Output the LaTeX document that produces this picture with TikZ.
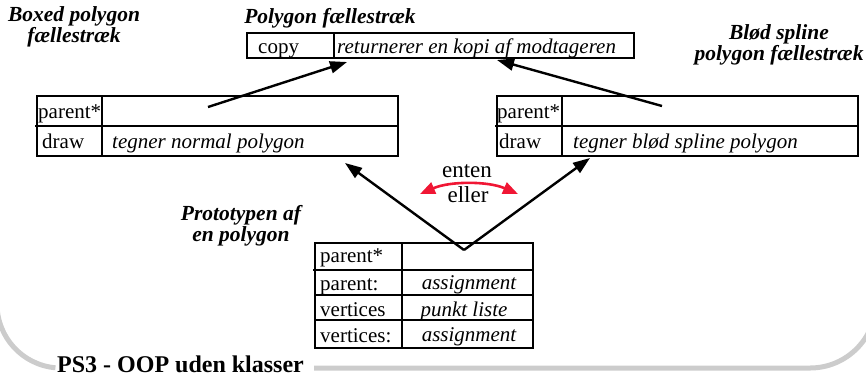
\documentclass[tikz,border=0pt]{standalone}
\usepackage{fontspec}
\setmainfont{Liberation Serif}
\usetikzlibrary{arrows.meta}
\definecolor{framegrey}{RGB}{204,204,204}
\definecolor{eitherred}{RGB}{240,22,52}
\tikzset{
  cellline/.style={line width=2.4pt, line join=miter},
  celltext/.style={anchor=base west, inner sep=0pt, font=\fontsize{21}{22}\selectfont},
  cellnote/.style={anchor=base west, inner sep=0pt, font=\fontsize{21}{22}\selectfont\itshape},
  cellnotec/.style={anchor=base, inner sep=0pt, font=\fontsize{21}{22}\selectfont\itshape},
  heading/.style={anchor=base, align=center, inner sep=0pt, font=\fontsize{21.5}{18.5}\selectfont\bfseries\itshape},
  plain/.style={anchor=base, inner sep=0pt, font=\fontsize{23}{24}\selectfont},
  link/.style={line width=2.4pt, -{Triangle[length=17pt,width=12pt]}},
  eitherlink/.style={eitherred, line width=2.6pt, {Triangle[length=15pt,width=12pt]}-{Triangle[length=15pt,width=12pt]}},
  frame/.style={framegrey, line width=5pt},
}
\begin{document}
\begin{tikzpicture}[x=1pt,y=-1pt]
\useasboundingbox (0,0) rectangle (866,376);
\clip (0,0) rectangle (866,376);

% grey slide frame, broken by the title
\draw[frame] (-3,200) -- (-3,304) arc[start angle=180, end angle=95, radius=64];
\draw[frame] (314,368) -- (810,368) arc[start angle=90, end angle=0, radius=66] -- (876,200);
\node[anchor=base west, inner sep=0pt, font=\fontsize{24}{26}\selectfont\bfseries] (title) at (57,372) {PS3 - OOP uden klasser};

% Polygon faellestraek
\draw[cellline] (247,33) rectangle (634,58);
\draw[cellline] (334,33) -- (334,58);
\node[heading] (polyhead) at (330,23) {Polygon fællestræk};
\node[celltext] (copy) at (258,53) {copy};
\node[cellnote] (copydesc) at (337,53) {returnerer en kopi af modtageren};

% Boxed polygon faellestraek
\draw[cellline] (37,96) rectangle (398,156);
\draw[cellline] (35,126) -- (398,126);
\draw[cellline] (102,96) -- (102,156);
\node[heading] (boxhead) at (74,42) {Boxed polygon\\fællestræk};
\node[celltext] (boxparent) at (38,118) {parent*};
\node[celltext] (boxdraw) at (42,148) {draw};
\node[cellnote] (boxdrawdesc) at (112,148) {tegner normal polygon};

% Bloed spline polygon faellestraek
\draw[cellline] (497,96) rectangle (858,156);
\draw[cellline] (495,126) -- (858,126);
\draw[cellline] (562,96) -- (562,156);
\node[heading] (splinehead) at (779,60) {Blød spline\\polygon fællestræk};
\node[celltext] (splineparent) at (497,118) {parent*};
\node[celltext] (splinedraw) at (499,148) {draw};
\node[cellnote] (splinedrawdesc) at (573,148) {tegner blød spline polygon};

% Prototype polygon
\draw[cellline] (315,243) rectangle (533,348);
\draw[cellline] (313,270) -- (533,270);
\draw[cellline] (315,295) -- (533,295);
\draw[cellline] (315,320) -- (533,320);
\draw[cellline] (402,243) -- (402,348);
\node[heading] (protohead) at (241,241) {Prototypen af\\en polygon};
\node[celltext] (protoparent) at (320,262) {parent*};
\node[celltext] (protoassignp) at (320,290) {parent:};
\node[celltext] (protovert) at (320,316) {vertices};
\node[celltext] (protoassignv) at (320,342) {vertices:};
\node[cellnotec] (protoassignpdesc) at (469,289) {assignment};
\node[cellnotec] (protovertdesc) at (464,316) {punkt liste};
\node[cellnotec] (protoassignvdesc) at (469,341) {assignment};

% parent links
\coordinate (boxfrom) at (208,107);
\coordinate (boxto) at (347,62);
\coordinate (splinefrom) at (662,106);
\coordinate (splineto) at (497,60);
\coordinate (protofrom) at (464,250);
\coordinate (protoleft) at (345,163);
\coordinate (protoright) at (590,158);
\draw[link] (boxfrom) -- (boxto);
\draw[link] (splinefrom) -- (splineto);
\draw[link] (protofrom) -- (protoleft);
\draw[link] (protofrom) -- (protoright);

% either / or choice
\node[plain] (enten) at (467,177) {enten};
\node[plain] (eller) at (468,202) {eller};
\coordinate (eitherL) at (420,194);
\coordinate (eitherR) at (518,194);
\draw[eitherlink] (eitherL) .. controls (450,181) and (488,181) .. (eitherR);
\end{tikzpicture}
\end{document}
